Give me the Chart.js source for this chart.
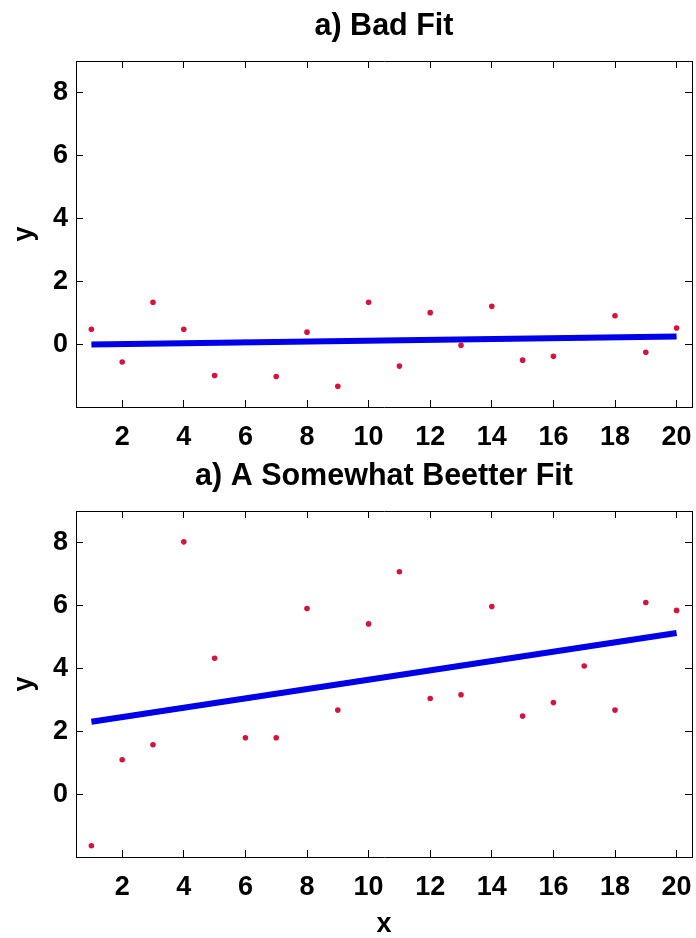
<!DOCTYPE html>
<html>
<head>
<meta charset="utf-8">
<title>Linear fits</title>
<script src="https://cdn.jsdelivr.net/npm/chart.js@4.4.1/dist/chart.umd.min.js"></script>
<style>
  html, body { margin: 0; padding: 0; background: #ffffff; }
  #wrap { position: relative; width: 696px; height: 938px; background: #ffffff; }
  canvas { position: absolute; left: 0; }
  #badFit { top: 0; }
  #betterFit { top: 450px; }
</style>
</head>
<body>
<div id="wrap">
  <canvas id="badFit" width="696" height="450"></canvas>
  <canvas id="betterFit" width="696" height="488"></canvas>
</div>
<script>
// Sample positions shared by both panels
const xValues = [1, 2, 3, 4, 5, 6, 7, 8, 9, 10, 11, 12, 13, 14, 15, 16, 17, 18, 19, 20];

// Panel a) Bad Fit: noisy samples and their least-squares line
const badFitY = [0.47, -0.57, 1.33, 0.47, -1.00, 0.06, -1.03, 0.38, -1.34, 1.33,
                 -0.70, 1.00, -0.04, 1.20, -0.51, -0.39, 0.20, 0.90, -0.26, 0.51];
const badFitLineX = [1, 20];
const badFitLineY = [-0.01, 0.24];

// Panel a) A Somewhat Beetter Fit
const betterFitY = [-1.64, 1.09, 1.57, 8.02, 4.32, 1.79, 1.79, 5.90, 2.67, 5.41,
                    7.07, 3.04, 3.16, 5.96, 2.48, 2.91, 4.07, 2.67, 6.09, 5.84];
const betterFitLineX = [1, 20];
const betterFitLineY = [2.30, 5.12];

// Axis ticks and limits
const xTickValues = [2, 4, 6, 8, 10, 12, 14, 16, 18, 20];
const yTickValues = [0, 2, 4, 6, 8];
const xLimits = [0.5, 20.5];
const yLimits = [-2, 9];

Chart.defaults.font.family = "'Liberation Sans', Arial, Helvetica, sans-serif";
Chart.defaults.color = '#000000';

const POINT_COLOR = '#d4143c';
const LINE_COLOR = '#0000e8';
const TICK_FONT = { size: 27, weight: 'bold' };

function toPoints(xs, ys) {
  return xs.map((x, i) => ({ x: x, y: ys[i] }));
}

function fixedTicks(values) {
  return (scale) => { scale.ticks = values.map(v => ({ value: v })); };
}

// fixed axis thickness, and no extra room reserved for overhanging labels
function fixedSize(prop, size) {
  return (s) => {
    s[prop] = size;
    s.paddingLeft = 0; s.paddingRight = 0; s.paddingTop = 0; s.paddingBottom = 0;
  };
}

function buildPanel(canvasId, titleText, ys, lineXs, lineYs, xTitle) {
  const bottomHeight = xTitle ? 81 : 43;
  const frame = { display: true, color: '#000000', width: 1 };
  const inwardTicks = {
    drawOnChartArea: false, drawTicks: true, tickLength: -7,
    color: '#000000', lineWidth: 1
  };

  return new Chart(document.getElementById(canvasId), {
    type: 'scatter',
    data: {
      datasets: [
        {
          label: 'fit',
          data: toPoints(lineXs, lineYs),
          showLine: true,
          borderColor: LINE_COLOR,
          borderWidth: 6,
          borderCapStyle: 'butt',
          pointRadius: 0,
          fill: false
        },
        {
          label: 'data',
          data: toPoints(xValues, ys),
          showLine: false,
          pointStyle: 'circle',
          pointRadius: 2.8,
          pointBorderWidth: 0,
          backgroundColor: POINT_COLOR,
          borderColor: POINT_COLOR
        }
      ]
    },
    options: {
      responsive: false,
      animation: false,
      devicePixelRatio: 1,
      layout: { padding: { left: 0, right: 4, top: 0, bottom: 0 } },
      plugins: {
        legend: { display: false },
        tooltip: { enabled: false },
        title: { display: false }
      },
      scales: {
        x: {
          type: 'linear',
          position: 'bottom',
          min: xLimits[0],
          max: xLimits[1],
          afterBuildTicks: fixedTicks(xTickValues),
          afterFit: fixedSize('height', bottomHeight),
          grid: inwardTicks,
          border: frame,
          ticks: { font: TICK_FONT, color: '#000000', padding: 21, maxRotation: 0, autoSkip: false },
          title: {
            display: !!xTitle,
            text: xTitle || '',
            color: '#000000',
            font: { size: 27, weight: 'bold', lineHeight: 1.0 },
            padding: { top: 0, bottom: 0 }
          }
        },
        // top edge of the frame; its title names the panel
        x2: {
          type: 'linear',
          position: 'top',
          min: xLimits[0],
          max: xLimits[1],
          afterBuildTicks: fixedTicks(xTickValues),
          afterFit: fixedSize('height', 61),
          grid: inwardTicks,
          border: frame,
          ticks: { display: false },
          title: {
            display: true,
            text: titleText,
            color: '#000000',
            font: { size: 30.5, weight: 'bold', lineHeight: 1.2 },
            padding: { top: 8, bottom: 0 }
          }
        },
        y: {
          type: 'linear',
          position: 'left',
          min: yLimits[0],
          max: yLimits[1],
          afterBuildTicks: fixedTicks(yTickValues),
          afterFit: fixedSize('width', 76),
          grid: inwardTicks,
          border: frame,
          ticks: { font: TICK_FONT, color: '#000000', padding: 15 },
          title: {
            display: true,
            text: 'y',
            color: '#000000',
            font: { size: 27, weight: 'bold', lineHeight: 1.2 },
            padding: { top: 8, bottom: 0 }
          }
        },
        y2: {
          type: 'linear',
          position: 'right',
          min: yLimits[0],
          max: yLimits[1],
          afterBuildTicks: fixedTicks(yTickValues),
          afterFit: fixedSize('width', 0),
          grid: inwardTicks,
          border: frame,
          ticks: { display: false }
        }
      }
    }
  });
}

buildPanel('badFit', 'a) Bad Fit', badFitY, badFitLineX, badFitLineY, null);
buildPanel('betterFit', 'a) A Somewhat Beetter Fit', betterFitY, betterFitLineX, betterFitLineY, 'x');
</script>
</body>
</html>
